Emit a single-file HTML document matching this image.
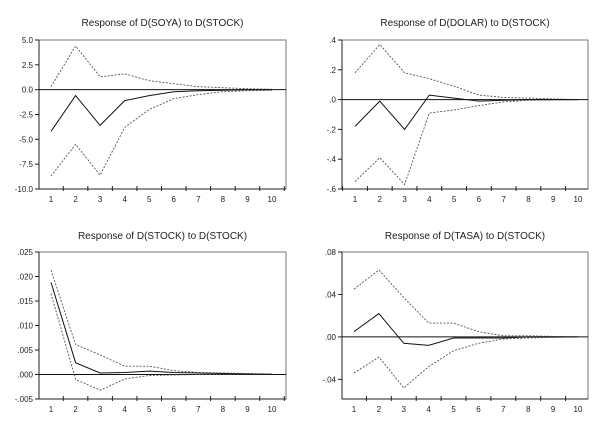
<!DOCTYPE html>
<html><head><meta charset="utf-8"><style>
body{margin:0;background:#fff;width:601px;height:419px;overflow:hidden}
svg{font-family:"Liberation Sans",sans-serif}
</style></head><body>
<svg id="c" width="601" height="419" viewBox="0 0 601 419"></svg>
<script>
const periods=[1,2,3,4,5,6,7,8,9,10];
const soyaResp=[-4.2,-0.6,-3.6,-1.1,-0.6,-0.2,-0.1,-0.05,0,0];
const soyaUpper=[0.3,4.4,1.3,1.6,0.9,0.6,0.3,0.2,0.1,0.05];
const soyaLower=[-8.7,-5.5,-8.6,-3.8,-2.0,-0.9,-0.5,-0.2,-0.1,-0.05];
const soyaTicks=[5,2.5,0,-2.5,-5,-7.5,-10];
const soyaTickLabels=["5.0","2.5","0.0","-2.5","-5.0","-7.5","-10.0"];
const dolarResp=[-0.18,-0.01,-0.2,0.03,0.01,-0.01,-0.005,0,0,0];
const dolarUpper=[0.18,0.37,0.18,0.14,0.09,0.03,0.015,0.01,0.005,0];
const dolarLower=[-0.55,-0.39,-0.57,-0.09,-0.07,-0.04,-0.015,-0.005,-0.002,0];
const dolarTicks=[0.4,0.2,0,-0.2,-0.4,-0.6];
const dolarTickLabels=[".4",".2",".0","-.2","-.4","-.6"];
const stockResp=[0.0188,0.0024,0.0003,0.0004,0.0007,0.0004,0.0003,0.0002,0.0001,0.00005];
const stockUpper=[0.0213,0.0061,0.0040,0.0017,0.0017,0.0008,0.0004,0.0003,0.0002,0.0001];
const stockLower=[0.0165,-0.0010,-0.0032,-0.0009,-0.0002,-0.0001,0,0,0,0];
const stockTicks=[0.025,0.02,0.015,0.01,0.005,0,-0.005];
const stockTickLabels=[".025",".020",".015",".010",".005",".000","-.005"];
const tasaResp=[0.005,0.022,-0.006,-0.008,-0.001,-0.001,-0.001,0,0,0];
const tasaUpper=[0.045,0.063,0.037,0.013,0.013,0.005,0.001,0.001,0.0005,0];
const tasaLower=[-0.034,-0.019,-0.048,-0.028,-0.013,-0.006,-0.002,-0.001,-0.0005,0];
const tasaTicks=[0.08,0.04,0,-0.04];
const tasaTickLabels=[".08",".04",".00","-.04"];

const NS="http://www.w3.org/2000/svg";
const svg=document.getElementById('c');
function mk(t,a,p){const e=document.createElementNS(NS,t);for(const k in a)e.setAttribute(k,a[k]);(p||svg).appendChild(e);return e;}

function panel(o){
  const g=mk('g',{});
  
  
  const xs=i=>o.x1+(o.x10-o.x1)*(i)/9;
  const ys=v=>o.top+(o.ymax-v)/(o.ymax-o.ymin)*(o.bot-o.top);
  const t=mk('text',{x:(o.L+o.R)/2,y:o.ty,'text-anchor':'middle','font-size':10,fill:'#222'},g);t.textContent=o.title;
  
  
  const box=mk('rect',{x:o.L,y:o.top,width:o.R-o.L,height:o.bot-o.top,fill:'none',stroke:'#777','stroke-width':1},g);
  
  
  mk('line',{x1:o.L,x2:o.L,y1:o.top,y2:o.bot,stroke:'#222'},g);
  mk('line',{x1:o.L,x2:o.R,y1:o.bot,y2:o.bot,stroke:'#222'},g);
  o.ticks.forEach((v,i)=>{
    const y=ys(v);
    mk('line',{x1:o.L-4,x2:o.L,y1:y,y2:y,stroke:'#222'},g);
    const tl=mk('text',{x:o.L-6,y:y+3,'text-anchor':'end','font-size':8,fill:'#222'},g);tl.textContent=o.tickLabels[i];
    
    
  });
  const step=(o.x10-o.x1)/9;
  for(let i=0;i<=10;i++){const x=o.x1-step/2+i*step;if(x>o.L&&x<o.R)mk('line',{x1:x,x2:x,y1:o.bot-3,y2:o.bot+2,stroke:'#222'},g);}
  periods.forEach((p,i)=>{const tl=mk('text',{x:xs(i),y:o.bot+13,'text-anchor':'middle','font-size':8,fill:'#222'},g);tl.textContent=p;
    
    });
  const z=mk('line',{x1:o.L,x2:o.R,y1:ys(0),y2:ys(0),stroke:'#111','stroke-width':1},g);
  
  
  const pts=a=>a.map((v,i)=>xs(i).toFixed(1)+','+ys(v).toFixed(1)).join(' ');
  const u=mk('polyline',{points:pts(o.up),fill:'none',stroke:'#555','stroke-width':0.9,'stroke-dasharray':'2,1.5'},g);
  
  
  const l=mk('polyline',{points:pts(o.lo),fill:'none',stroke:'#555','stroke-width':0.9,'stroke-dasharray':'2,1.5'},g);
  
  
  const r=mk('polyline',{points:pts(o.resp),fill:'none',stroke:'#111','stroke-width':1},g);
  
  
}
panel({name:'panel-soya',title:'Response of D(SOYA) to D(STOCK)',L:39,R:286,top:40,bot:189,ty:26,x1:51,x10:272,ymax:5,ymin:-10,ticks:soyaTicks,tickLabels:soyaTickLabels,resp:soyaResp,up:soyaUpper,lo:soyaLower});
panel({name:'panel-dolar',title:'Response of D(DOLAR) to D(STOCK)',L:342,R:588,top:40,bot:189,ty:26,x1:355,x10:578,ymax:0.4,ymin:-0.6,ticks:dolarTicks,tickLabels:dolarTickLabels,resp:dolarResp,up:dolarUpper,lo:dolarLower});
panel({name:'panel-stock',title:'Response of D(STOCK) to D(STOCK)',L:39,R:286,top:252,bot:399,ty:239,x1:51,x10:272,ymax:0.025,ymin:-0.005,ticks:stockTicks,tickLabels:stockTickLabels,resp:stockResp,up:stockUpper,lo:stockLower});
panel({name:'panel-tasa',title:'Response of D(TASA) to D(STOCK)',L:342,R:588,top:252,bot:399,ty:239,x1:354,x10:578,ymax:0.08,ymin:-0.0585,ticks:tasaTicks,tickLabels:tasaTickLabels,resp:tasaResp,up:tasaUpper,lo:tasaLower});
</script>
</body></html>
